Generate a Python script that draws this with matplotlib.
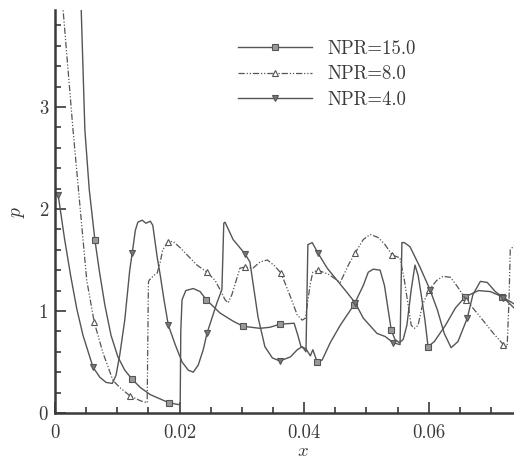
import numpy as np
import matplotlib
matplotlib.use("Agg")
import matplotlib.pyplot as plt

# NPR = 15.0 (solid, squares)
x15 = [0.0040, 0.0042, 0.0048, 0.0055, 0.0064, 0.0071, 0.0080, 0.0090, 0.0101, 0.0112,
       0.0124, 0.0137, 0.0153, 0.0183, 0.0201, 0.0202, 0.0204, 0.0210, 0.0222, 0.0233,
       0.0243, 0.0265, 0.0286, 0.0302, 0.0329, 0.0345, 0.0361, 0.0384, 0.0390, 0.0395,
       0.0403, 0.0410, 0.0414, 0.0421, 0.0429, 0.0442, 0.0458, 0.0480, 0.0495, 0.0503,
       0.0511, 0.0522, 0.0529, 0.0535, 0.0540, 0.0546, 0.0553, 0.0559, 0.0565, 0.0572,
       0.0578, 0.0583, 0.0588, 0.0594, 0.0599, 0.0609, 0.0627, 0.0643, 0.0659, 0.0680,
       0.0699, 0.0718, 0.0737]
p15 = [4.05, 3.97, 2.77, 2.19, 1.70, 1.40, 1.06, 0.76, 0.55, 0.42,
       0.33, 0.25, 0.18, 0.10, 0.08, 0.81, 1.11, 1.20, 1.22, 1.19,
       1.11, 0.98, 0.90, 0.85, 0.83, 0.84, 0.87, 0.88, 0.76, 0.65,
       0.63, 0.56, 0.62, 0.50, 0.52, 0.69, 0.86, 1.06, 1.25, 1.38,
       1.41, 1.40, 1.25, 1.01, 0.81, 0.72, 0.69, 0.72, 0.86, 1.21,
       1.45, 1.35, 1.16, 0.91, 0.65, 0.70, 0.86, 1.03, 1.14, 1.20,
       1.19, 1.14, 1.07]
m15 = [0.0064, 0.0124, 0.0183, 0.0243, 0.0302, 0.0361, 0.0421, 0.0480, 0.0540,
       0.0599, 0.0659, 0.0718]

# NPR = 8.0 (dash-dot, triangles up)
x8 = [0.0012, 0.0013, 0.0021, 0.0029, 0.0045, 0.0051, 0.0063, 0.0077, 0.0093, 0.0104,
      0.0120, 0.0137, 0.0148, 0.0150, 0.0151, 0.0159, 0.0164, 0.0169, 0.0173, 0.0182,
      0.0190, 0.0201, 0.0212, 0.0228, 0.0244, 0.0257, 0.0265, 0.0273, 0.0278, 0.0284,
      0.0291, 0.0297, 0.0305, 0.0318, 0.0329, 0.0341, 0.0353, 0.0363, 0.0378, 0.0389,
      0.0397, 0.0402, 0.0410, 0.0414, 0.0422, 0.0439, 0.0458, 0.0471, 0.0482, 0.0495,
      0.0506, 0.0519, 0.0530, 0.0541, 0.0554, 0.0561, 0.0567, 0.0572, 0.0577, 0.0583,
      0.0590, 0.0601, 0.0613, 0.0623, 0.0635, 0.0646, 0.0660, 0.0683, 0.0704, 0.0720,
      0.0726, 0.0729, 0.0731, 0.0737]
p8 = [4.10, 3.95, 3.36, 2.77, 1.70, 1.30, 0.89, 0.59, 0.32, 0.25,
      0.17, 0.12, 0.10, 1.28, 1.30, 1.35, 1.37, 1.48, 1.60, 1.68,
      1.68, 1.62, 1.55, 1.45, 1.38, 1.30, 1.21, 1.11, 1.08, 1.16,
      1.30, 1.42, 1.43, 1.42, 1.48, 1.50, 1.44, 1.37, 1.14, 0.96,
      0.91, 0.93, 1.27, 1.38, 1.40, 1.36, 1.28, 1.45, 1.57, 1.70,
      1.75, 1.72, 1.65, 1.55, 1.52, 1.30, 1.06, 0.86, 0.83, 0.86,
      1.06, 1.21, 1.30, 1.34, 1.33, 1.24, 1.11, 0.94, 0.78, 0.67,
      0.65, 1.11, 1.60, 1.64]
m8 = [0.0063, 0.0120, 0.0182, 0.0244, 0.0305, 0.0363, 0.0422, 0.0482, 0.0541,
      0.0601, 0.0660, 0.0720]

# NPR = 4.0 (solid, triangles down)
x4 = [0.0005, 0.0015, 0.0025, 0.0035, 0.0045, 0.0061, 0.0072, 0.0082, 0.0092, 0.0098,
      0.0104, 0.0112, 0.0120, 0.0124, 0.0129, 0.0133, 0.0140, 0.0146, 0.0153, 0.0157,
      0.0164, 0.0169, 0.0175, 0.0182, 0.0193, 0.0204, 0.0214, 0.0222, 0.0230, 0.0238,
      0.0244, 0.0252, 0.0260, 0.0268, 0.0271, 0.0273, 0.0286, 0.0305, 0.0313, 0.0318,
      0.0326, 0.0337, 0.0349, 0.0361, 0.0378, 0.0389, 0.0397, 0.0403, 0.0406, 0.0413,
      0.0422, 0.0437, 0.0453, 0.0469, 0.0482, 0.0495, 0.0517, 0.0530, 0.0543, 0.0554,
      0.0557, 0.0561, 0.0570, 0.0586, 0.0602, 0.0614, 0.0625, 0.0636, 0.0647, 0.0662,
      0.0671, 0.0683, 0.0694, 0.0707, 0.0720, 0.0737]
p4 = [2.14, 1.72, 1.35, 1.02, 0.76, 0.45, 0.35, 0.30, 0.29, 0.37,
      0.57, 0.91, 1.40, 1.57, 1.79, 1.87, 1.89, 1.86, 1.88, 1.84,
      1.53, 1.35, 1.11, 0.86, 0.67, 0.50, 0.42, 0.40, 0.47, 0.62,
      0.78, 0.93, 1.08, 1.21, 1.86, 1.87, 1.70, 1.56, 1.48, 1.27,
      0.94, 0.65, 0.54, 0.51, 0.55, 0.62, 0.65, 0.60, 1.65, 1.67,
      1.57, 1.42, 1.30, 1.18, 1.08, 0.93, 0.78, 0.75, 0.69, 0.67,
      1.67, 1.67, 1.63, 1.43, 1.21, 1.01, 0.78, 0.64, 0.70, 0.93,
      1.16, 1.29, 1.28, 1.19, 1.13, 1.03]
m4 = [0.0005, 0.0061, 0.0124, 0.0182, 0.0244, 0.0305, 0.0361, 0.0422, 0.0482,
      0.0543, 0.0602, 0.0662, 0.0720]

xticks = [0, 0.02, 0.04, 0.06]
xtick_labels = ["0", "0.02", "0.04", "0.06"]
yticks = [0, 1, 2, 3]
ytick_labels = ["0", "1", "2", "3"]

plt.rcParams["font.family"] = "cmr10"
plt.rcParams["mathtext.fontset"] = "cm"
plt.rcParams["axes.formatter.use_mathtext"] = True

ink = "#3a3a3a"
line_col = "#555555"

fig = plt.figure(figsize=(5.14, 4.63), dpi=100)
ax = fig.add_axes([55 / 514, 50 / 463, 459 / 514, 403 / 463])


def marks(xs, ms):
    # indices of the data points that carry a marker
    return [i for i, v in enumerate(xs) if v in ms]


ax.plot(x15, p15, color=line_col, lw=1.0, marker="s", ms=4, mfc="#999999", mec=line_col,
        mew=0.8, markevery=marks(x15, m15), label="NPR=15.0")
ax.plot(x8, p8, color=line_col, lw=0.9, dashes=(5, 1.5, 1, 1.5, 1, 1.5), marker="^", ms=4.5,
        mfc="white", mec=line_col, mew=0.8, markevery=marks(x8, m8), label="NPR=8.0")
ax.plot(x4, p4, color=line_col, lw=1.0, marker="v", ms=4.5, mfc="#777777", mec=line_col,
        mew=0.8, markevery=marks(x4, m4), label="NPR=4.0")

ax.set_xlim(0, 0.0737)
ax.set_ylim(0, 3.95)
ax.set_xticks(xticks)
ax.set_xticklabels(xtick_labels)
ax.set_yticks(yticks)
ax.set_yticklabels(ytick_labels)
ax.set_xticks(np.arange(0, 0.0737, 0.005), minor=True)
ax.set_yticks(np.arange(0, 3.95, 0.2), minor=True)
ax.tick_params(which="both", direction="in", colors=ink, labelsize=13.5, width=1.2)
ax.tick_params(which="major", length=8)
ax.tick_params(which="minor", length=4.5)
ax.tick_params(axis="x", which="major", pad=8)
ax.tick_params(axis="y", which="major", pad=5)

for s in ["top", "right"]:
    ax.spines[s].set_visible(False)
for s in ["left", "bottom"]:
    ax.spines[s].set_linewidth(1.8)
    ax.spines[s].set_color(ink)

ax.set_xlabel("$x$", fontsize=13.5, color=ink)
ax.xaxis.set_label_coords((303 - 55) / 459, -0.072)
ax.set_ylabel("$p$", fontsize=14, color=ink, labelpad=8)

ax.legend(loc="upper left", bbox_to_anchor=(238 / 514, 1 - 40 / 463),
          bbox_transform=fig.transFigure, frameon=False, fontsize=13.5,
          handlelength=3.95, handletextpad=0.8, labelspacing=0.4,
          borderpad=0, borderaxespad=0, labelcolor=ink)

fig.savefig("out.png", dpi=100)
